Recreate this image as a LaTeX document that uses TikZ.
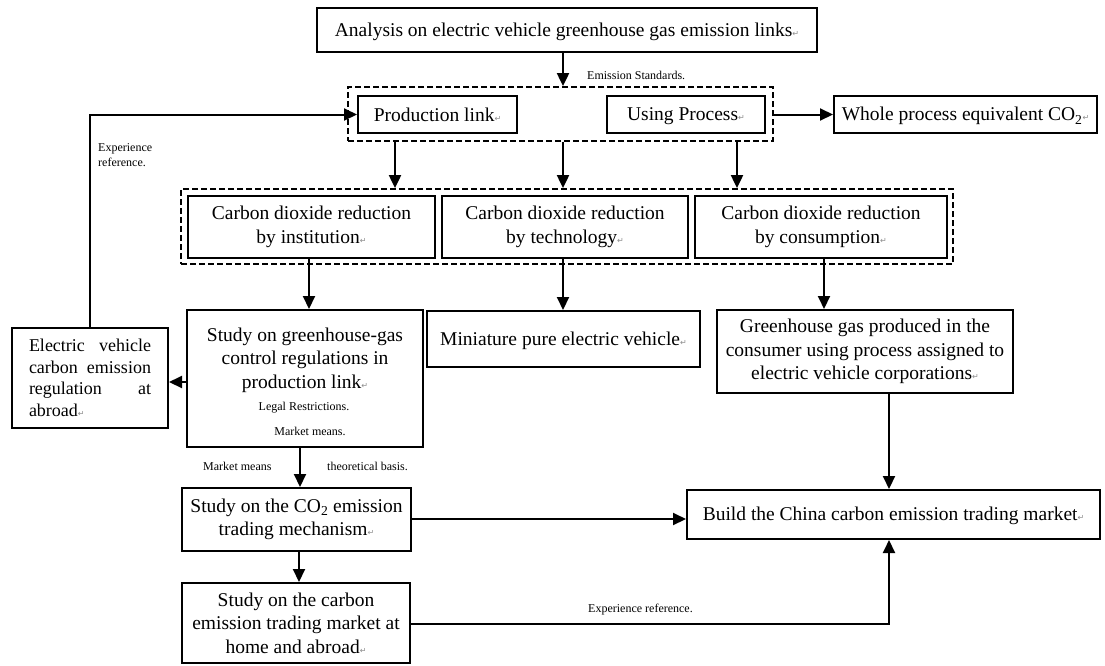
\documentclass[tikz,border=0pt]{standalone}
\usepackage{fontspec}
\setmainfont{Liberation Serif}
\newfontfamily\dvfont{DejaVu Sans}
\usetikzlibrary{arrows.meta}
\newcommand\rmk{{\dvfont\fontsize{8}{8}\selectfont\color{black!45}\symbol{"21B5}}}
\newcommand\bstrut{\rule[-4pt]{0pt}{21pt}}
\begin{document}
\begin{tikzpicture}[x=1pt,y=-1pt,
  box/.style={draw, line width=2pt, inner sep=2pt, align=center, font=\fontsize{19.5}{23.5}\selectfont},
  txt/.style={inner sep=0pt, align=center, font=\fontsize{19.5}{23.5}\selectfont},
  grp/.style={draw, line width=1.8pt, dash pattern=on 6pt off 3pt},
  arr/.style={line width=2pt, -{Triangle[length=13pt,width=12pt]}},
  lbl/.style={font=\fontsize{12}{15}\selectfont, inner sep=0pt, align=left},
]
\useasboundingbox (0,0) rectangle (1105,665);
\fill[white] (0,0) rectangle (1105,665);

% dashed groups
\node[grp, minimum width=425pt, minimum height=54pt] (g1) at (560.5,114) {};
\node[grp, minimum width=772pt, minimum height=75pt] (g2) at (567,226.5) {};

% boxes
\node[box, minimum width=500pt, minimum height=44pt] (top) at (567,30) {\bstrut Analysis on electric vehicle greenhouse gas emission links\rmk};
\node[box, minimum width=159pt, minimum height=37pt] (prod) at (437.5,114.5) {\bstrut Production link\rmk};
\node[box, minimum width=158pt, minimum height=37pt] (using) at (686,114.5) {\bstrut Using Process\rmk};
\node[box, minimum width=263pt, minimum height=37pt] (whole) at (965.5,114.5) {\bstrut Whole process equivalent CO\textsubscript{2}\rmk};

\node[box, minimum width=247pt, minimum height=62pt] (inst) at (311.5,227) {Carbon dioxide reduction\\by institution\rmk};
\node[box, minimum width=246pt, minimum height=62pt] (tech) at (565,227) {Carbon dioxide reduction\\by technology\rmk};
\node[box, minimum width=252pt, minimum height=62pt] (cons) at (821,227) {Carbon dioxide reduction\\by consumption\rmk};

\node[box, minimum width=236pt, minimum height=137pt] (gs) at (305,378.5) {};
\node[txt] (gst) at (305,360) {Study on greenhouse-gas\\control regulations in\\production link\rmk};
\node[lbl] (gsl1) at (304,408) {Legal Restrictions.};
\node[lbl] (gsl2) at (310,431) {Market means.};

\node[box, minimum width=156pt, minimum height=100pt, text width=122pt, align=justify,
      font=\fontsize{18}{21.5}\selectfont] (ev) at (90,378)
  {Electric vehicle\linebreak carbon emission\linebreak regulation at\linebreak abroad\rmk};

\node[box, minimum width=273pt, minimum height=56pt] (mini) at (563.5,339) {\bstrut Miniature pure electric vehicle\rmk};
\node[box, minimum width=296pt, minimum height=83pt] (ghg) at (865,351.5) {Greenhouse gas produced in the\\consumer using process assigned to\\electric vehicle corporations\rmk};

\node[box, minimum width=413pt, minimum height=49pt] (build) at (893.5,514.5) {\bstrut Build the China carbon emission trading market\rmk};
\node[box, minimum width=229pt, minimum height=63pt] (co2) at (296.5,519.5) {Study on the CO\textsubscript{2} emission\\trading mechanism\rmk};
\node[box, minimum width=228pt, minimum height=80pt] (mk) at (296,623) {Study on the carbon\\emission trading market at\\home and abroad\rmk};

% labels
\node[lbl, anchor=west] (les) at (587,75) {Emission Standards.};
\node[lbl, anchor=north west] (lexp1) at (98,143) {Experience\\reference.};
\node[lbl, anchor=west] (lmm) at (203,466) {Market means};
\node[lbl, anchor=west] (ltb) at (327,466) {theoretical basis.};
\node[lbl, anchor=west] (lexp2) at (588,610) {Experience reference.};

% connectors
\draw[arr] (563,0 |- top.south) -- (563,0 |- g1.north);
\draw[arr] (g1.east |- using.east) -- (whole.west);
\draw[arr] (395,0 |- g1.south) -- (395,0 |- g2.north);
\draw[arr] (563,0 |- g1.south) -- (563,0 |- g2.north);
\draw[arr] (737,0 |- g1.south) -- (737,0 |- g2.north);
\draw[arr] (309,0 |- inst.south) -- (309,0 |- gs.north);
\draw[arr] (563,0 |- tech.south) -- (563,0 |- mini.north);
\draw[arr] (824,0 |- cons.south) -- (824,0 |- ghg.north);
\draw[arr] (gs.west |- 0,382) -- (ev.east |- 0,382);
\draw[arr] (ev.north) -- (ev.north |- prod.west) -- (prod.west);
\draw[arr] (300,0 |- gs.south) -- (300,0 |- co2.north);
\draw[arr] (co2.east |- 0,519) -- (build.west |- 0,519);
\draw[arr] (299,0 |- co2.south) -- (299,0 |- mk.north);
\draw[arr] (mk.east |- 0,624) -- (889,624) -- (889,0 |- build.south);
\draw[arr] (889,0 |- ghg.south) -- (889,0 |- build.north);
\end{tikzpicture}
\end{document}
